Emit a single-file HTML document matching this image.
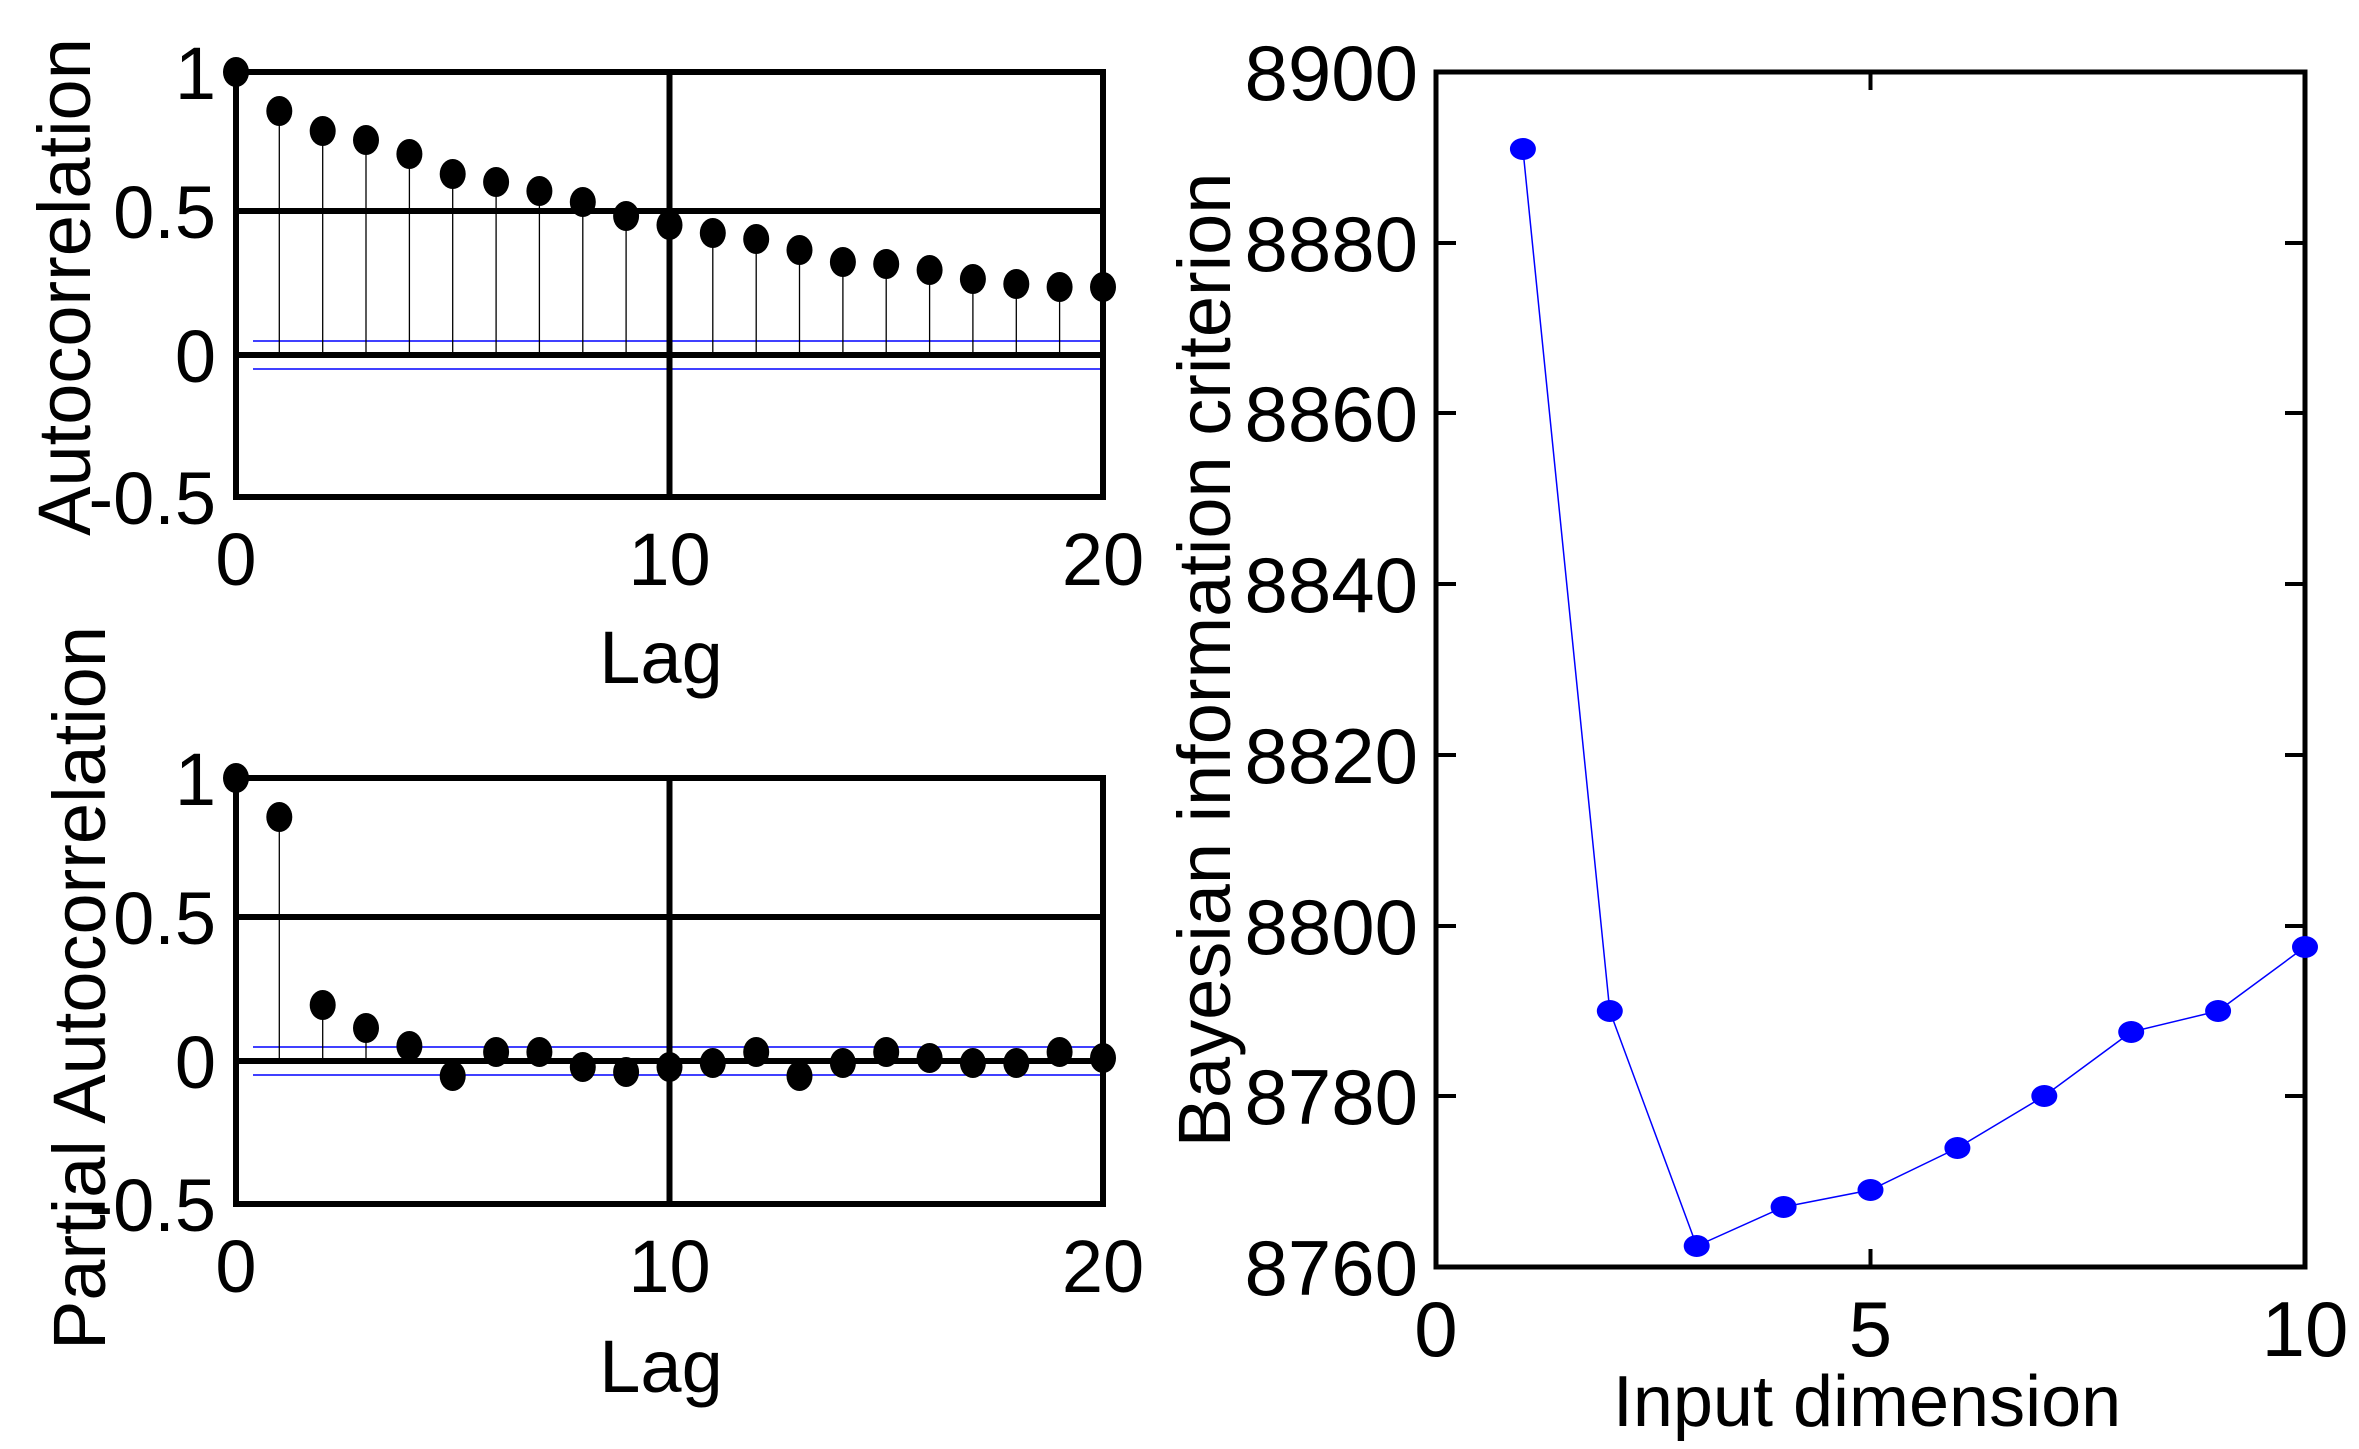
<!DOCTYPE html>
<html><head><meta charset="utf-8"><style>
html,body{margin:0;padding:0;background:#fff;}
svg{display:block;font-family:"Liberation Sans",Arial,sans-serif;}
</style></head><body>
<svg width="2359" height="1449" viewBox="0 0 2359 1449" xmlns="http://www.w3.org/2000/svg">
<rect width="2359" height="1449" fill="#fff"/>

<!-- ===== ACF (top-left) ===== -->
<g>
<line x1="253" y1="341" x2="1104" y2="341" stroke="#0000ff" stroke-width="1.5"/>
<line x1="253" y1="369" x2="1104" y2="369" stroke="#0000ff" stroke-width="1.5"/>
<g stroke="#000" stroke-width="1.3">
<line x1="279.3" y1="355" x2="279.3" y2="111"/>
<line x1="322.7" y1="355" x2="322.7" y2="131"/>
<line x1="366.0" y1="355" x2="366.0" y2="140"/>
<line x1="409.4" y1="355" x2="409.4" y2="154"/>
<line x1="452.7" y1="355" x2="452.7" y2="174"/>
<line x1="496.1" y1="355" x2="496.1" y2="182"/>
<line x1="539.4" y1="355" x2="539.4" y2="191"/>
<line x1="582.8" y1="355" x2="582.8" y2="202"/>
<line x1="626.1" y1="355" x2="626.1" y2="216"/>
<line x1="669.5" y1="355" x2="669.5" y2="225"/>
<line x1="712.8" y1="355" x2="712.8" y2="233"/>
<line x1="756.2" y1="355" x2="756.2" y2="239"/>
<line x1="799.5" y1="355" x2="799.5" y2="250"/>
<line x1="842.9" y1="355" x2="842.9" y2="262"/>
<line x1="886.2" y1="355" x2="886.2" y2="264"/>
<line x1="929.6" y1="355" x2="929.6" y2="270"/>
<line x1="972.9" y1="355" x2="972.9" y2="279"/>
<line x1="1016.3" y1="355" x2="1016.3" y2="284"/>
<line x1="1059.6" y1="355" x2="1059.6" y2="287"/>
<line x1="1103" y1="355" x2="1103" y2="287"/>
</g>
<g stroke="#000" stroke-width="6" fill="none">
<rect x="236" y="72" width="867" height="425"/>
<line x1="236" y1="211" x2="1103" y2="211"/>
<line x1="236" y1="355" x2="1103" y2="355"/>
<line x1="669.5" y1="72" x2="669.5" y2="497"/>
</g>
<g fill="#000">
<ellipse cx="236" cy="72" rx="13" ry="15"/>
<ellipse cx="279.3" cy="111" rx="13" ry="15"/>
<ellipse cx="322.7" cy="131" rx="13" ry="15"/>
<ellipse cx="366.0" cy="140" rx="13" ry="15"/>
<ellipse cx="409.4" cy="154" rx="13" ry="15"/>
<ellipse cx="452.7" cy="174" rx="13" ry="15"/>
<ellipse cx="496.1" cy="182" rx="13" ry="15"/>
<ellipse cx="539.4" cy="191" rx="13" ry="15"/>
<ellipse cx="582.8" cy="202" rx="13" ry="15"/>
<ellipse cx="626.1" cy="216" rx="13" ry="15"/>
<ellipse cx="669.5" cy="225" rx="13" ry="15"/>
<ellipse cx="712.8" cy="233" rx="13" ry="15"/>
<ellipse cx="756.2" cy="239" rx="13" ry="15"/>
<ellipse cx="799.5" cy="250" rx="13" ry="15"/>
<ellipse cx="842.9" cy="262" rx="13" ry="15"/>
<ellipse cx="886.2" cy="264" rx="13" ry="15"/>
<ellipse cx="929.6" cy="270" rx="13" ry="15"/>
<ellipse cx="972.9" cy="279" rx="13" ry="15"/>
<ellipse cx="1016.3" cy="284" rx="13" ry="15"/>
<ellipse cx="1059.6" cy="287" rx="13" ry="15"/>
<ellipse cx="1103" cy="287" rx="13" ry="15"/>
</g>
<g font-size="74" text-anchor="end" fill="#000">
<text x="216" y="99">1</text>
<text x="216" y="238">0.5</text>
<text x="216" y="382">0</text>
<text x="216" y="524">-0.5</text>
</g>
<g font-size="74" text-anchor="middle" fill="#000">
<text x="236" y="585">0</text>
<text x="669.5" y="585">10</text>
<text x="1103" y="585">20</text>
<text x="661" y="683">Lag</text>
</g>
<text transform="translate(90,287) rotate(-90)" font-size="74" text-anchor="middle">Autocorrelation</text>
</g>

<!-- ===== PACF (bottom-left) ===== -->
<g>
<line x1="253" y1="1047" x2="1104" y2="1047" stroke="#0000ff" stroke-width="1.5"/>
<line x1="253" y1="1075" x2="1104" y2="1075" stroke="#0000ff" stroke-width="1.5"/>
<g stroke="#000" stroke-width="1.3">
<line x1="279.3" y1="1061" x2="279.3" y2="817"/>
<line x1="322.7" y1="1061" x2="322.7" y2="1005"/>
<line x1="366.0" y1="1061" x2="366.0" y2="1028"/>
</g>
<g stroke="#000" stroke-width="6" fill="none">
<rect x="236" y="778" width="867" height="426"/>
<line x1="236" y1="917" x2="1103" y2="917"/>
<line x1="236" y1="1061" x2="1103" y2="1061"/>
<line x1="669.5" y1="778" x2="669.5" y2="1204"/>
</g>
<g fill="#000">
<ellipse cx="236" cy="778" rx="13" ry="15"/>
<ellipse cx="279.3" cy="817" rx="13" ry="15"/>
<ellipse cx="322.7" cy="1005" rx="13" ry="15"/>
<ellipse cx="366.0" cy="1028" rx="13" ry="15"/>
<ellipse cx="409.4" cy="1046" rx="13" ry="15"/>
<ellipse cx="452.7" cy="1076" rx="13" ry="15"/>
<ellipse cx="496.1" cy="1052" rx="13" ry="15"/>
<ellipse cx="539.4" cy="1052" rx="13" ry="15"/>
<ellipse cx="582.8" cy="1067" rx="13" ry="15"/>
<ellipse cx="626.1" cy="1072" rx="13" ry="15"/>
<ellipse cx="669.5" cy="1067" rx="13" ry="15"/>
<ellipse cx="712.8" cy="1063" rx="13" ry="15"/>
<ellipse cx="756.2" cy="1052" rx="13" ry="15"/>
<ellipse cx="799.5" cy="1076" rx="13" ry="15"/>
<ellipse cx="842.9" cy="1063" rx="13" ry="15"/>
<ellipse cx="886.2" cy="1052" rx="13" ry="15"/>
<ellipse cx="929.6" cy="1058" rx="13" ry="15"/>
<ellipse cx="972.9" cy="1063" rx="13" ry="15"/>
<ellipse cx="1016.3" cy="1063" rx="13" ry="15"/>
<ellipse cx="1059.6" cy="1052" rx="13" ry="15"/>
<ellipse cx="1103" cy="1058" rx="13" ry="15"/>
</g>
<g font-size="74" text-anchor="end" fill="#000">
<text x="216" y="805">1</text>
<text x="216" y="944">0.5</text>
<text x="216" y="1088">0</text>
<text x="216" y="1231">-0.5</text>
</g>
<g font-size="74" text-anchor="middle" fill="#000">
<text x="236" y="1292">0</text>
<text x="669.5" y="1292">10</text>
<text x="1103" y="1292">20</text>
<text x="661" y="1392">Lag</text>
</g>
<text transform="translate(105,988) rotate(-90)" font-size="74" text-anchor="middle">Partial Autocorrelation</text>
</g>

<!-- ===== BIC (right) ===== -->
<g>
<rect x="1436" y="72" width="869" height="1195" fill="none" stroke="#000" stroke-width="5"/>
<g stroke="#000" stroke-width="4">
<line x1="1436" y1="243" x2="1456" y2="243"/><line x1="2305" y1="243" x2="2285" y2="243"/>
<line x1="1436" y1="413" x2="1456" y2="413"/><line x1="2305" y1="413" x2="2285" y2="413"/>
<line x1="1436" y1="584" x2="1456" y2="584"/><line x1="2305" y1="584" x2="2285" y2="584"/>
<line x1="1436" y1="755" x2="1456" y2="755"/><line x1="2305" y1="755" x2="2285" y2="755"/>
<line x1="1436" y1="926" x2="1456" y2="926"/><line x1="2305" y1="926" x2="2285" y2="926"/>
<line x1="1436" y1="1096" x2="1456" y2="1096"/><line x1="2305" y1="1096" x2="2285" y2="1096"/>
<line x1="1870.5" y1="72" x2="1870.5" y2="90"/><line x1="1870.5" y1="1267" x2="1870.5" y2="1249"/>
</g>
<polyline fill="none" stroke="#0000ff" stroke-width="1.5" points="1522.9,149 1609.8,1011 1696.7,1246 1783.6,1207 1870.5,1190 1957.4,1148 2044.3,1096 2131.2,1032 2218.1,1011 2305,947"/>
<g fill="#0000ff">
<ellipse cx="1522.9" cy="149" rx="13" ry="11"/>
<ellipse cx="1609.8" cy="1011" rx="13" ry="11"/>
<ellipse cx="1696.7" cy="1246" rx="13" ry="11"/>
<ellipse cx="1783.6" cy="1207" rx="13" ry="11"/>
<ellipse cx="1870.5" cy="1190" rx="13" ry="11"/>
<ellipse cx="1957.4" cy="1148" rx="13" ry="11"/>
<ellipse cx="2044.3" cy="1096" rx="13" ry="11"/>
<ellipse cx="2131.2" cy="1032" rx="13" ry="11"/>
<ellipse cx="2218.1" cy="1011" rx="13" ry="11"/>
<ellipse cx="2305" cy="947" rx="13" ry="11"/>
</g>
<g font-size="78" text-anchor="end" fill="#000">
<text x="1418" y="100">8900</text>
<text x="1418" y="271">8880</text>
<text x="1418" y="441">8860</text>
<text x="1418" y="612">8840</text>
<text x="1418" y="783">8820</text>
<text x="1418" y="954">8800</text>
<text x="1418" y="1124">8780</text>
<text x="1418" y="1295">8760</text>
</g>
<g font-size="78" text-anchor="middle" fill="#000">
<text x="1436" y="1356">0</text>
<text x="1870.5" y="1356">5</text>
<text x="2305" y="1356">10</text>
</g>
<text x="1867" y="1426" font-size="72" text-anchor="middle">Input dimension</text>
<text transform="translate(1230,660) rotate(-90)" font-size="74" text-anchor="middle">Bayesian information criterion</text>
</g>
</svg>
</body></html>
